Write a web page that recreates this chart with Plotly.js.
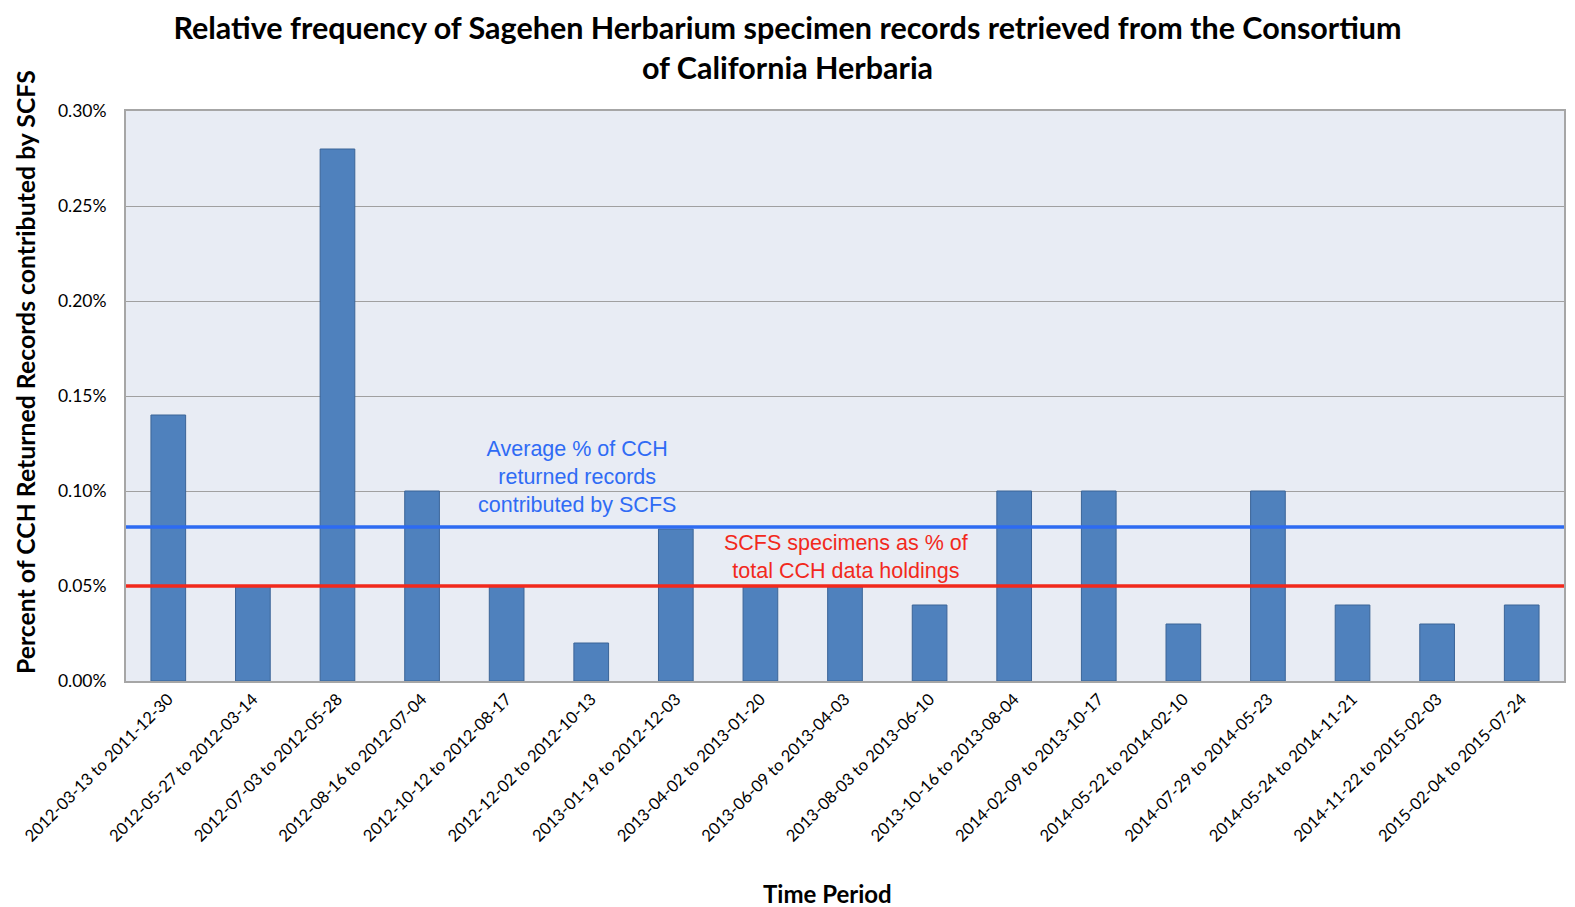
<!DOCTYPE html>
<html>
<head>
<meta charset="utf-8">
<script src="https://cdn.plot.ly/plotly-3.0.1.min.js"></script>
<style>html,body{margin:0;padding:0;background:#fff;}#chart{width:1575px;height:907px;}</style>
</head>
<body>
<div id="chart"></div>
<script>
const periods = [
  "2012-03-13 to 2011-12-30",
  "2012-05-27 to 2012-03-14",
  "2012-07-03 to 2012-05-28",
  "2012-08-16 to 2012-07-04",
  "2012-10-12 to 2012-08-17",
  "2012-12-02 to 2012-10-13",
  "2013-01-19 to 2012-12-03",
  "2013-04-02 to 2013-01-20",
  "2013-06-09 to 2013-04-03",
  "2013-08-03 to 2013-06-10",
  "2013-10-16 to 2013-08-04",
  "2014-02-09 to 2013-10-17",
  "2014-05-22 to 2014-02-10",
  "2014-07-29 to 2014-05-23",
  "2014-05-24 to 2014-11-21",
  "2014-11-22 to 2015-02-03",
  "2015-02-04 to 2015-07-24"
];
const percentValues = [0.14, 0.05, 0.28, 0.10, 0.05, 0.02, 0.08, 0.05, 0.05, 0.04, 0.10, 0.10, 0.03, 0.10, 0.04, 0.03, 0.04];
const averagePercent = 0.081;
const holdingsPercent = 0.05;
const yTicks = [0, 0.05, 0.10, 0.15, 0.20, 0.25, 0.30];

const FONT = 'Lato, "Open Sans", sans-serif';

const trace = {
  type: 'bar',
  x: periods,
  y: percentValues,
  marker: {color: '#4F81BD', line: {color: '#3B6497', width: 1}},
  hoverinfo: 'x+y'
};

const layout = {
  width: 1575, height: 907,
  margin: {l: 126, r: 11, t: 111, b: 226},
  paper_bgcolor: '#ffffff',
  plot_bgcolor: '#E8ECF4',
  bargap: 0.59,
  showlegend: false,
  title: {
    text: '<b>Relative frequency of Sagehen Herbarium specimen records retrieved from the Consortium<br>of California Herbaria</b>',
    font: {family: FONT, size: 30.5, color: '#000'},
    x: 0.5, xanchor: 'center', xref: 'container', yref: 'container', y: 0.957, yanchor: 'bottom'
  },
  xaxis: {
    type: 'category',
    tickangle: -45,
    tickfont: {family: FONT, size: 16.5, color: '#000'},
    showline: true, linecolor: '#A6A6A6', linewidth: 2, mirror: true,
    ticks: '', showgrid: false
  },
  yaxis: {
    range: [0, 0.30],
    tickvals: yTicks,
    ticktext: yTicks.map(v => v.toFixed(2) + '%'),
    tickfont: {family: FONT, size: 17.5, color: '#000'},
    showgrid: true, gridcolor: '#A0A0A0', gridwidth: 1,
    showline: true, linecolor: '#A6A6A6', linewidth: 2, mirror: true,
    zeroline: false, ticks: '', ticklabelstandoff: 14
  },
  shapes: [
    {type: 'line', xref: 'paper', yref: 'y', x0: 0, x1: 1, y0: averagePercent, y1: averagePercent, line: {color: '#2D6BF2', width: 3.5}},
    {type: 'line', xref: 'paper', yref: 'y', x0: 0, x1: 1, y0: holdingsPercent, y1: holdingsPercent, line: {color: '#F2291C', width: 3.5}}
  ],
  annotations: [
    {text: 'Average % of CCH<br>returned records<br>contributed by SCFS', xref: 'paper', yref: 'y', x: 0.3135, y: 0.1295, xanchor: 'center', yanchor: 'top', showarrow: false,
     font: {family: '"Liberation Sans", Arial, sans-serif', size: 21.5, color: '#2F6BF5'}, align: 'center'},
    {text: 'SCFS specimens as % of<br>total CCH data holdings', xref: 'paper', yref: 'y', x: 0.5005, y: 0.0801, xanchor: 'center', yanchor: 'top', showarrow: false,
     font: {family: '"Liberation Sans", Arial, sans-serif', size: 21.5, color: '#F2291C'}, align: 'center'},
    {text: '<b>Percent of CCH Returned Records contributed by SCFS</b>', textangle: -90, xref: 'paper', yref: 'paper', x: 0, xshift: -101, y: 0.542, xanchor: 'center', yanchor: 'middle', showarrow: false,
     font: {family: FONT, size: 24.8, color: '#000'}},
    {text: '<b>Time Period</b>', xref: 'paper', yref: 'paper', x: 0.488, y: -0.372, xanchor: 'center', yanchor: 'middle', showarrow: false,
     font: {family: FONT, size: 24, color: '#000'}}
  ]
};

Plotly.newPlot('chart', [trace], layout, {displayModeBar: false, staticPlot: true});
</script>
</body>
</html>
